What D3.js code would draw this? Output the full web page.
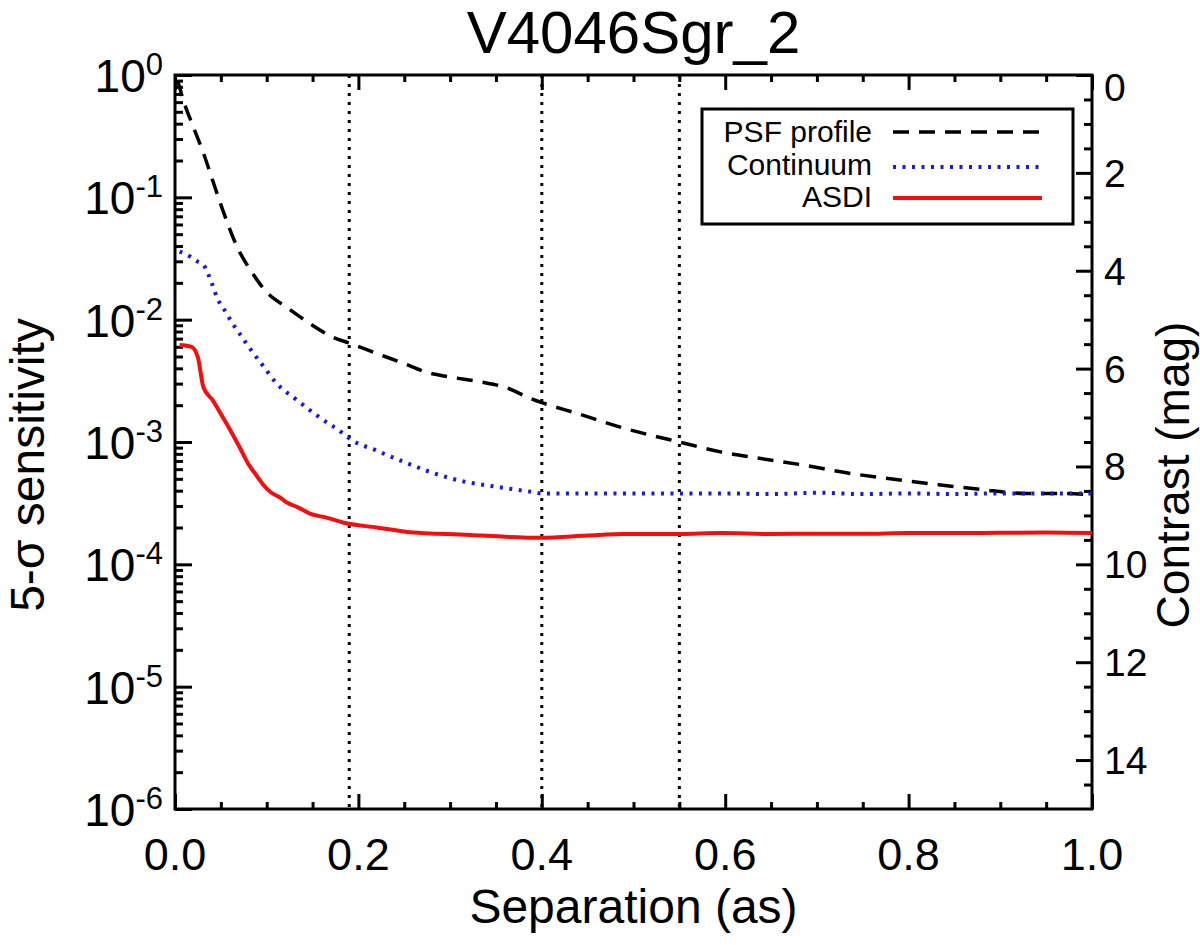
<!DOCTYPE html>
<html>
<head>
<meta charset="utf-8">
<script src="https://cdn.jsdelivr.net/npm/d3@7"></script>
<style>
  body { margin: 0; background: #fff; }
  text { font-family: 'Liberation Sans', Arial, Helvetica, sans-serif; fill: #000; }
</style>
</head>
<body>
<div id="chart"></div>
<script>
// separation (arcsec) and 5-sigma sensitivity
const psfSep = [0.003, 0.009, 0.02, 0.031, 0.041, 0.052, 0.068, 0.082, 0.10, 0.122, 0.147, 0.172, 0.191, 0.22, 0.249, 0.275, 0.30, 0.333, 0.36, 0.386, 0.40, 0.44, 0.489, 0.518, 0.55, 0.595, 0.635, 0.684, 0.732, 0.78, 0.83, 0.878, 0.927, 0.96, 1.0]
const psfVal = [0.9, 0.625, 0.376, 0.23, 0.138, 0.079, 0.039, 0.0256, 0.0168, 0.0126, 0.0093, 0.0072, 0.0064, 0.0053, 0.0044, 0.0037, 0.0034, 0.0031, 0.0028, 0.0023, 0.0021, 0.0017, 0.0013, 0.00114, 0.0010, 0.00083, 0.00074, 0.00065, 0.00056, 0.00050, 0.00045, 0.00041, 0.00038, 0.00038, 0.00037]

const contSep = [0.005, 0.016, 0.024, 0.031, 0.04, 0.046, 0.054, 0.062, 0.073, 0.084, 0.095, 0.111, 0.133, 0.158, 0.183, 0.19, 0.22, 0.249, 0.281, 0.318, 0.342, 0.37, 0.39, 0.40, 0.45, 0.5, 0.55, 0.6, 0.65, 0.7, 0.75, 0.8, 0.85, 0.9, 0.95, 1.0]
const contVal = [0.036, 0.033, 0.030, 0.028, 0.020, 0.0150, 0.0120, 0.0095, 0.0072, 0.0055, 0.0043, 0.0030, 0.0022, 0.00158, 0.00118, 0.00107, 0.00085, 0.00069, 0.00056, 0.00047, 0.00044, 0.00041, 0.00039, 0.00038, 0.00038, 0.00038, 0.00038, 0.00038, 0.000375, 0.000385, 0.000375, 0.00038, 0.000375, 0.00038, 0.00038, 0.00038]

const asdiSep = [0.005, 0.018, 0.025, 0.031, 0.041, 0.052, 0.06, 0.071, 0.08, 0.089, 0.096, 0.104, 0.115, 0.122, 0.133, 0.147, 0.166, 0.183, 0.22, 0.256, 0.286, 0.322, 0.36, 0.40, 0.45, 0.489, 0.55, 0.595, 0.65, 0.7, 0.75, 0.8, 0.85, 0.9, 0.95, 1.0]
const asdiVal = [0.0062, 0.006, 0.0049, 0.0028, 0.0022, 0.0016, 0.00126, 0.00089, 0.00066, 0.00053, 0.00045, 0.00039, 0.00035, 0.00032, 0.000295, 0.00026, 0.00024, 0.00022, 0.0002, 0.000183, 0.000178, 0.000174, 0.000168, 0.000165, 0.000172, 0.000177, 0.000177, 0.00018, 0.000177, 0.000178, 0.000178, 0.00018, 0.00018, 0.000181, 0.000182, 0.00018]

const markerSep = [0.19, 0.40, 0.55]

const xTicks = [0, 0.2, 0.4, 0.6, 0.8, 1.0]
const yExps = [0, -1, -2, -3, -4, -5, -6]
const magTicks = [0, 2, 4, 6, 8, 10, 12, 14]

const legendLabels = ['PSF profile', 'Continuum', 'ASDI']

const margin = { top: 75, left: 175, right: 108, bottom: 136 }
const width = 1200 - margin.left - margin.right
const height = 945 - margin.top - margin.bottom

const svg = d3
  .select('#chart')
  .append('svg')
  .attr('width', 1200)
  .attr('height', 945)

const g = svg
  .append('g')
  .attr('transform', 'translate(' + margin.left + ',' + margin.top + ')')

const x = d3.scaleLinear().domain([0, 1]).range([0, width])
const y = d3.scaleLog().domain([1e-6, 1]).range([height, 0])
const yMag = d3.scaleLinear().domain([0, 15]).range([0, height])

// minor ticks
const xMinor = d3.range(0, 1.0001, 0.05).filter(d => Math.abs(d * 5 - Math.round(d * 5)) > 1e-6)
const yMinor = []
for (let e = -6; e < 0; e++) {
  for (let m = 2; m < 10; m++) yMinor.push(m * Math.pow(10, e))
}
const magMinor = d3.range(0.5, 15, 0.5).filter(d => d % 2 !== 0)

// bottom and top
g.append('g')
  .attr('transform', `translate(0,${height})`)
  .call(d3.axisBottom(x).tickValues(xTicks).tickSize(-15).tickFormat(''))
g.append('g')
  .attr('transform', `translate(0,${height})`)
  .call(d3.axisBottom(x).tickValues(xMinor).tickSize(-7).tickFormat(''))
g.append('g')
  .call(d3.axisTop(x).tickValues(xTicks).tickSize(-15).tickFormat(''))
g.append('g')
  .call(d3.axisTop(x).tickValues(xMinor).tickSize(-7).tickFormat(''))

// left log axis
g.append('g')
  .call(d3.axisLeft(y).tickValues(yExps.map(e => Math.pow(10, e))).tickSize(-17).tickFormat(''))
g.append('g')
  .call(d3.axisLeft(y).tickValues(yMinor).tickSize(-8).tickFormat(''))

// right magnitude axis
g.append('g')
  .attr('transform', `translate(${width},0)`)
  .call(d3.axisRight(yMag).tickValues(magTicks).tickSize(-16).tickFormat(''))
g.append('g')
  .attr('transform', `translate(${width},0)`)
  .call(d3.axisRight(yMag).tickValues(magMinor).tickSize(-8).tickFormat(''))

g.selectAll('.domain').remove()
g.selectAll('.tick line').attr('stroke', '#000').attr('stroke-width', 3)

// frame
g.append('rect')
  .attr('width', width)
  .attr('height', height)
  .attr('fill', 'none')
  .attr('stroke', '#000')
  .attr('stroke-width', 3)

// tick labels
g.selectAll('.xlab')
  .data(xTicks)
  .enter()
  .append('text')
  .attr('x', d => x(d))
  .attr('y', height + 61)
  .attr('text-anchor', 'middle')
  .attr('font-size', 45)
  .text(d => d.toFixed(1))

const ylab = g.selectAll('.ylab')
  .data(yExps)
  .enter()
  .append('text')
  .attr('x', -12)
  .attr('y', d => y(Math.pow(10, d)) + 17)
  .attr('text-anchor', 'end')
  .attr('font-size', 46)
ylab.append('tspan').text('10')
ylab.append('tspan')
  .attr('font-size', 31)
  .attr('dy', -17)
  .text(d => d)

g.selectAll('.maglab')
  .data(magTicks)
  .enter()
  .append('text')
  .attr('x', width + 12)
  .attr('y', d => (d === 0 ? yMag(d) + 26 : yMag(d) + 14))
  .attr('font-size', 39)
  .text(d => d)

// marker lines
g.selectAll('.marker')
  .data(markerSep)
  .enter()
  .append('line')
  .attr('x1', d => x(d))
  .attr('x2', d => x(d))
  .attr('y1', 0)
  .attr('y2', height)
  .attr('stroke', '#000')
  .attr('stroke-width', 3)
  .attr('stroke-dasharray', '3,6')

const line = d3
  .line()
  .curve(d3.curveMonotoneX)
  .x(d => x(d[0]))
  .y(d => y(d[1]))

const series = [
  { sep: psfSep, val: psfVal, color: '#000', w: 3.5, dash: '16,10' },
  { sep: contSep, val: contVal, color: '#1a1adb', w: 4, dash: '3,6.5' },
  { sep: asdiSep, val: asdiVal, color: '#f01010', w: 4, dash: null }
]

g.selectAll('.series')
  .data(series)
  .enter()
  .append('path')
  .attr('d', d => line(d3.zip(d.sep, d.val)))
  .attr('fill', 'none')
  .attr('stroke', d => d.color)
  .attr('stroke-width', d => d.w)
  .attr('stroke-dasharray', d => d.dash)

// legend
const legend = svg.append('g').attr('transform', 'translate(702,109)')
legend.append('rect')
  .attr('width', 371)
  .attr('height', 115)
  .attr('fill', '#fff')
  .attr('stroke', '#000')
  .attr('stroke-width', 3)

legend
  .selectAll('g')
  .data(legendLabels)
  .enter()
  .append('g')
  .attr('transform', (d, i) => `translate(0,${[23, 58, 89][i]})`)
  .each(function(d, i) {
    const row = d3.select(this)
    row.append('text')
      .attr('x', 170)
      .attr('y', [10, 8, 9][i])
      .attr('text-anchor', 'end')
      .attr('font-size', 30)
      .text(d)
    row.append('line')
      .attr('x1', 191)
      .attr('x2', 340)
      .attr('stroke', series[i].color)
      .attr('stroke-width', series[i].w)
      .attr('stroke-dasharray', series[i].dash)
  })

// titles
svg.append('text')
  .attr('x', margin.left + width / 2)
  .attr('y', 53)
  .attr('text-anchor', 'middle')
  .attr('font-size', 60)
  .text('V4046Sgr_2')

svg.append('text')
  .attr('x', margin.left + width / 2)
  .attr('y', 923)
  .attr('text-anchor', 'middle')
  .attr('font-size', 48)
  .text('Separation (as)')

svg.append('text')
  .attr('transform', 'translate(44,465) rotate(-90)')
  .attr('text-anchor', 'middle')
  .attr('font-size', 48)
  .text('5-σ sensitivity')

svg.append('text')
  .attr('transform', 'translate(1189,475) rotate(-90)')
  .attr('text-anchor', 'middle')
  .attr('font-size', 46)
  .text('Contrast (mag)')
</script>
</body>
</html>
